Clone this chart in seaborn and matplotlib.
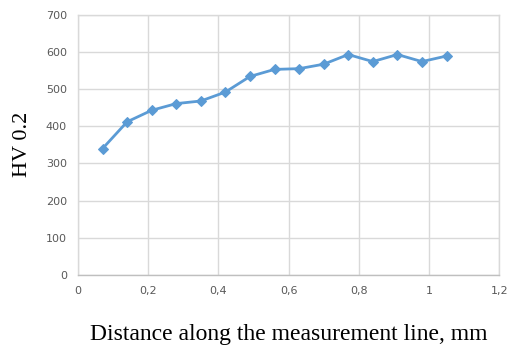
import matplotlib
matplotlib.use("Agg")
import matplotlib.pyplot as plt
import seaborn as sns
import pandas as pd

distance = [0.07, 0.14, 0.21, 0.28, 0.35, 0.42, 0.49, 0.56, 0.63, 0.70, 0.77, 0.84, 0.91, 0.98, 1.05]
hardness = [340, 412, 443, 461, 468, 492, 534, 553, 555, 567, 593, 574, 593, 574, 589]
x_ticks = [0, 0.2, 0.4, 0.6, 0.8, 1.0, 1.2]
x_tick_labels = ["0", "0,2", "0,4", "0,6", "0,8", "1", "1,2"]
y_ticks = [0, 100, 200, 300, 400, 500, 600, 700]

sns.set_theme(style="whitegrid")
df = pd.DataFrame({"x": distance, "y": hardness})

fig = plt.figure(figsize=(5.13, 3.47), dpi=100)
ax = fig.add_axes([0.152, 0.2075, 0.821, 0.75])
sns.lineplot(data=df, x="x", y="y", ax=ax, color="#5B9BD5", linewidth=2,
             marker="D", markersize=5, markeredgecolor="#5B9BD5")
ax.set_xlim(0, 1.2)
ax.set_ylim(0, 700)
ax.set_xticks(x_ticks)
ax.set_xticklabels(x_tick_labels)
ax.set_yticks(y_ticks)
ax.grid(True, color="#D9D9D9", linewidth=1)
for s in ax.spines.values():
    s.set_color("#D9D9D9")
    s.set_linewidth(1)
ax.spines["bottom"].set_color("#BFBFBF")
ax.tick_params(axis="both", labelsize=8, colors="#595959", length=0, pad=8)
ax.set_xlabel("Distance along the measurement line, mm", fontfamily="Liberation Serif",
              fontsize=17, color="black", labelpad=20)
ax.set_ylabel("HV 0.2", fontfamily="Liberation Serif", fontsize=16, color="black", labelpad=10)
fig.savefig("out.png", dpi=100)
